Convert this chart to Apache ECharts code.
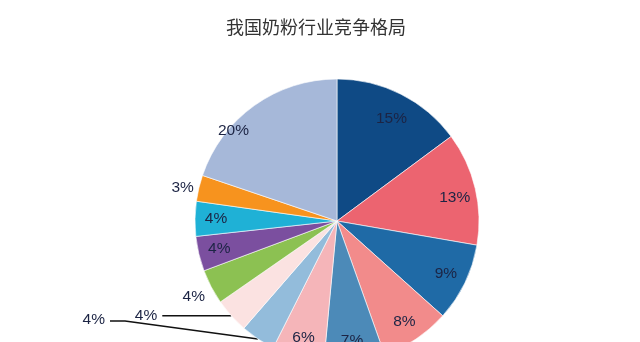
<!DOCTYPE html>
<html>
<head>
<meta charset="utf-8">
<script src="https://cdn.jsdelivr.net/npm/echarts@6/dist/echarts.min.js"></script>
<style>
  html, body { margin: 0; padding: 0; background: #fff; }
  #main { width: 640px; height: 342px; }
</style>
</head>
<body>
<div id="main"></div>
<script>
// 数据：顺时针从12点方向开始
var names = ['A', 'B', 'C', 'D', 'E', 'F', 'G', 'H', 'I', 'J', 'K', 'L', 'M']
var values = [15, 13, 9, 8, 7, 6, 4, 4, 4, 4, 4, 3, 20]
var colors = ['#0f4a85', '#ec6470', '#1f6aa6', '#f28b8b', '#4c8ab8', '#f5b5b9',
  '#93bcdb', '#fbe2e1', '#8cc152', '#7b4f9f', '#1fb1d6', '#f7931e', '#a6b8d9']

// 外部标签的扇区
var outsideIdx = [6, 7, 8, 11]
var lineIdx = [6, 7]

var center = [337, 221]
var labelFont = {
  fontFamily: 'Liberation Sans',
  fontSize: 15.5,
  color: '#1c2444'
}

function fmt(p) {
  return p.value + '%'
}

// 主饼图，只显示外部标签
var mainData = values.map(function (v, i) {
  var outside = outsideIdx.indexOf(i) > -1
  var hasLine = lineIdx.indexOf(i) > -1
  return {
    name: names[i],
    value: v,
    itemStyle: { color: colors[i] },
    label: { show: outside },
    labelLine: {
      show: hasLine,
      length: 0,
      length2: i === 7 ? 69 : 0
    }
  }
})

// 透明圆环，用来把内部标签往外推
var ringData = values.map(function (v, i) {
  return {
    name: names[i],
    value: v,
    label: { show: outsideIdx.indexOf(i) < 0 }
  }
})

var option = {
  animation: false,
  title: {
    text: '我国奶粉行业竞争格局',
    left: 311,
    top: 13,
    textAlign: 'center',
    textStyle: {
      fontFamily: 'Noto Sans CJK SC',
      fontSize: 18,
      fontWeight: 'normal',
      color: '#333'
    }
  },
  series: [
    {
      type: 'pie',
      radius: 142,
      center: center,
      startAngle: 90,
      clockwise: true,
      avoidLabelOverlap: false,
      silent: true,
      itemStyle: { borderColor: '#fff', borderWidth: 0.6 },
      label: Object.assign({ position: 'outside', distance: 5, formatter: fmt }, labelFont),
      labelLine: { lineStyle: { color: '#111', width: 1.5 }, smooth: false },
      labelLayout: function (p) {
        if (p.dataIndex === 6) {
          var pts = p.labelLinePoints
          return {
            x: 105,
            y: 320,
            align: 'right',
            verticalAlign: 'middle',
            labelLinePoints: [pts[0], [125, 321], [110, 321]]
          }
        }
        if (p.dataIndex === 8) {
          return { x: 205, y: 297, align: 'right', verticalAlign: 'middle' }
        }
        return {}
      },
      data: mainData
    },
    {
      type: 'pie',
      radius: [94, 142],
      center: center,
      startAngle: 90,
      clockwise: true,
      silent: true,
      avoidLabelOverlap: false,
      itemStyle: { color: 'rgba(0,0,0,0)' },
      label: Object.assign({ position: 'inside', formatter: fmt }, labelFont),
      labelLine: { show: false },
      labelLayout: function (p) {
        // 20% 标签偏左
        if (p.dataIndex === 12) return { dx: -33, dy: 8 }
        if (p.dataIndex === 0) return { dy: 6 }
        if (p.dataIndex === 1) return { dy: 5 }
        return {}
      },
      data: ringData
    }
  ]
}

var chart = echarts.init(document.getElementById('main'))
chart.setOption(option)
</script>
</body>
</html>
